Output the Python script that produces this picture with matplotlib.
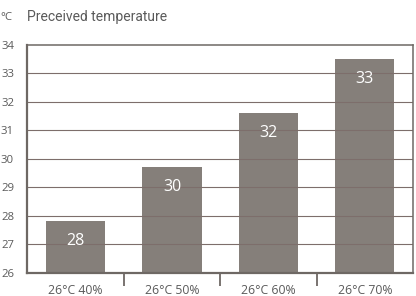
import matplotlib
matplotlib.use("Agg")
import matplotlib.pyplot as plt
import numpy as np

categories = ["26°C 40%", "26°C 50%", "26°C 60%", "26°C 70%"]
values = [27.8, 29.7, 31.6, 33.5]
labels = ["28", "30", "32", "33"]
yticks = [26, 27, 28, 29, 30, 31, 32, 33, 34]

bar_color = "#857f7a"
spine_color = "#6e6864"
grid_color = "#7d6e6b"
text_color = "#5a5a5a"

fig = plt.figure(figsize=(4.16, 2.96), dpi=100)
ax = fig.add_axes([27.3/416, 1-272.7/296, (413-27.3)/416, (272.7-45)/296])

x = np.arange(len(categories))
ax.bar(x, [v - 26 for v in values], bottom=26, width=0.615, color=bar_color, zorder=1)
for xi, v, lab in zip(x, values, labels):
    ax.text(xi, v - 0.7, lab, ha="center", va="center", color="white",
            fontsize=11.5, family="Open Sans", zorder=5)

ax.set_xlim(-0.5, 3.5)
ax.set_ylim(26, 34)
ax.set_yticks(yticks)
ax.set_yticklabels([str(t) for t in yticks], family="Open Sans", fontsize=8.2, color=text_color)
ax.tick_params(axis="y", length=0, pad=9.5)

ax.set_xticks(x)
ax.set_xticklabels(categories, family="Open Sans", fontsize=8.8, color=text_color)
ax.tick_params(axis="x", which="major", length=0, pad=8)
ax.set_xticks([0.5, 1.5, 2.5], minor=True)
ax.tick_params(axis="x", which="minor", length=9.5, width=1.3, color=spine_color, direction="out")

for yv in yticks[1:-1]:
    ax.axhline(yv, color=grid_color, linewidth=0.8, zorder=3)

for s in ["left", "bottom"]:
    ax.spines[s].set_color(spine_color)
    ax.spines[s].set_linewidth(1.6)
for s in ["top", "right"]:
    ax.spines[s].set_color(spine_color)
    ax.spines[s].set_linewidth(1.1)
for s in ax.spines.values():
    s.set_zorder(4)

fig.text(0.5/416, 1-17/296, "°C", family="Open Sans", fontsize=8.2, color=text_color, ha="left", va="center")
fig.text(27/416, 1-17/296, "Preceived temperature", family="Roboto", fontsize=10,
         color=text_color, ha="left", va="center")

fig.savefig("out.png", dpi=100)
